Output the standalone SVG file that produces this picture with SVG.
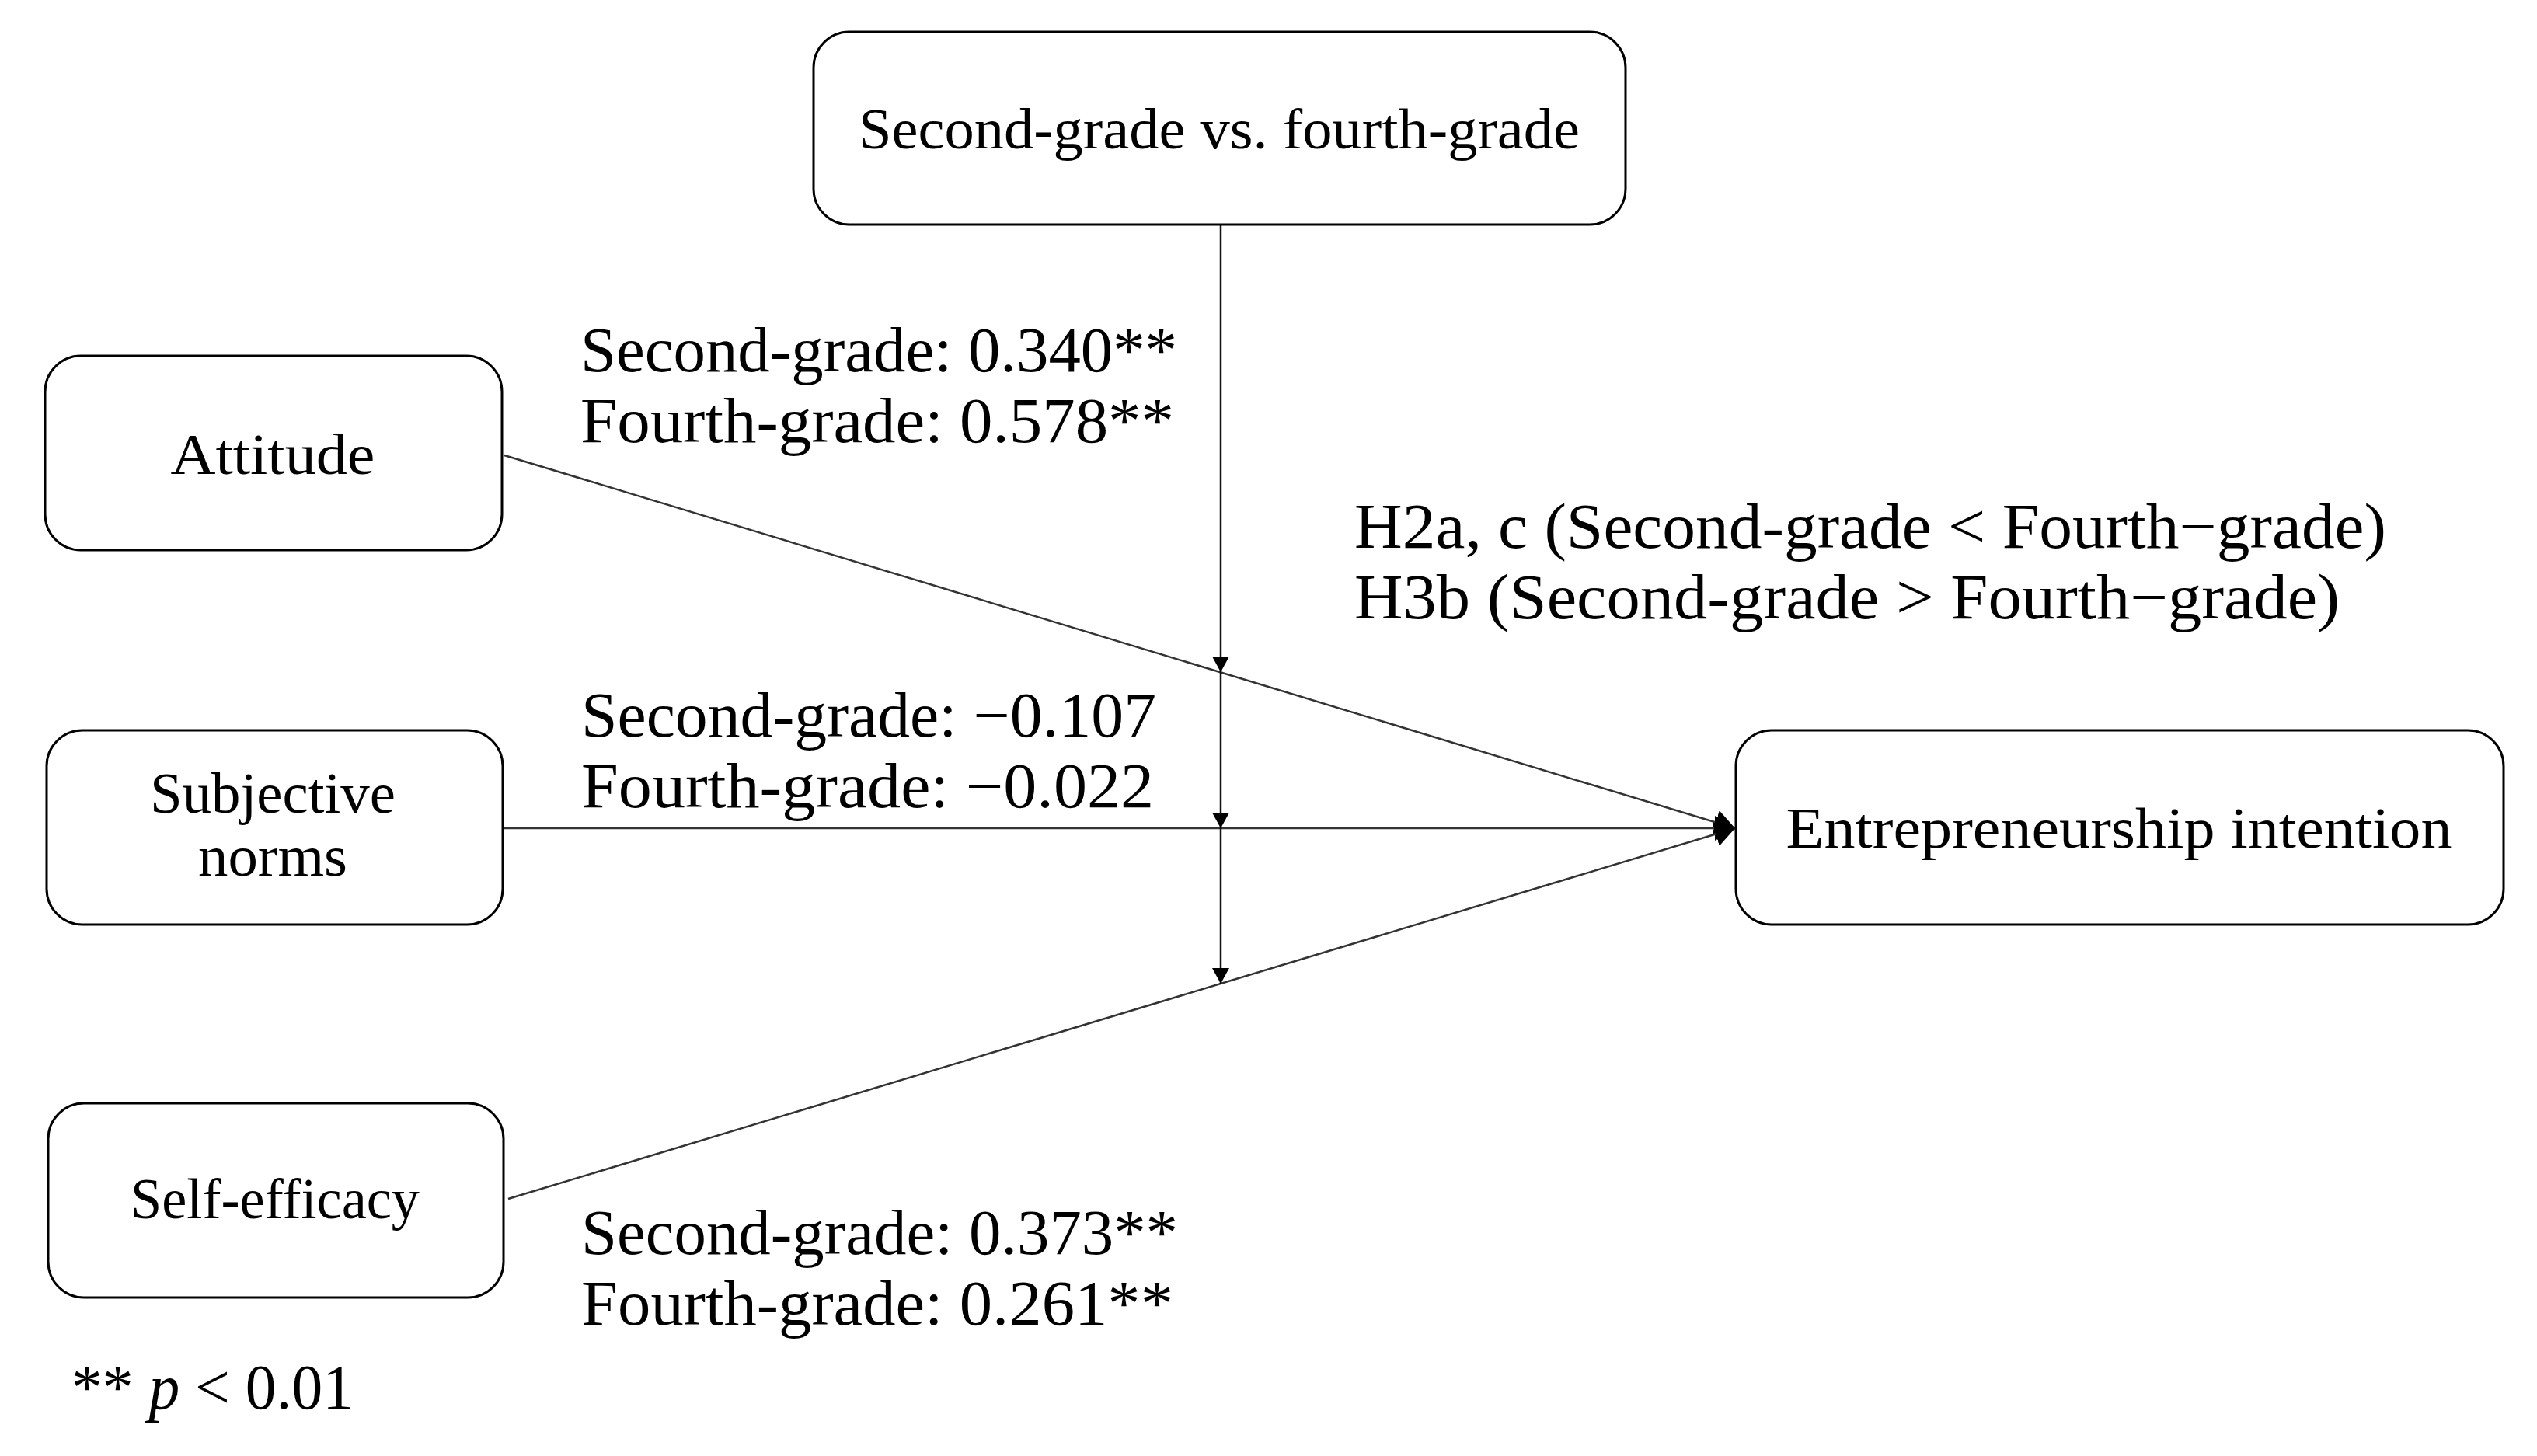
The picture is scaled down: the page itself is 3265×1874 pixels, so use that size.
<svg xmlns="http://www.w3.org/2000/svg" width="3265" height="1874" viewBox="0 0 3265 1874">
<style>
.box{fill:#fff;stroke:#000;stroke-width:3}
.nt{font-family:"Liberation Serif","DejaVu Serif",serif;font-size:75px;fill:#000;text-anchor:middle}
.lb{font-family:"Liberation Serif","DejaVu Serif",serif;font-size:82px;fill:#000}
.ln{fill:none;stroke:#333;stroke-width:2.5}
.vl{fill:none;stroke:#111;stroke-width:2.5}
</style>
<defs>
<marker id="ah" markerUnits="userSpaceOnUse" markerWidth="24" markerHeight="24" refX="20" refY="11" orient="auto"><path d="M0,0 L20,11 L0,22 Z" fill="#000"/></marker>
<marker id="ahb" markerUnits="userSpaceOnUse" markerWidth="30" markerHeight="34" refX="26" refY="16" orient="auto"><path d="M0,0 L26,16 L0,32 Z" fill="#000"/></marker>
</defs>
<rect width="3265" height="1874" fill="#fff"/>
<g id="connectors">
<line class="ln" x1="649" y1="586" x2="2233" y2="1066" marker-end="url(#ahb)"/>
<line class="ln" x1="647" y1="1066" x2="2233" y2="1066" marker-end="url(#ahb)"/>
<line class="ln" x1="654" y1="1543" x2="2233" y2="1066" marker-end="url(#ahb)"/>
<line class="vl" x1="1571" y1="289" x2="1571" y2="865" marker-end="url(#ah)"/>
<line class="vl" x1="1571" y1="865" x2="1571" y2="1066" marker-end="url(#ah)"/>
<line class="vl" x1="1571" y1="1066" x2="1571" y2="1266" marker-end="url(#ah)"/>
</g>
<g id="grade">
<rect class="box" x="1047" y="41" width="1045" height="248" rx="46" ry="46"/>
<text class="nt" x="1569" y="191" textLength="928" lengthAdjust="spacingAndGlyphs">Second-grade vs. fourth-grade</text>
</g>
<g id="attitude">
<rect class="box" x="58" y="458" width="588" height="250" rx="46" ry="46"/>
<text class="nt" x="351" y="610" textLength="263" lengthAdjust="spacingAndGlyphs">Attitude</text>
</g>
<g id="subjective-norms">
<rect class="box" x="60" y="940" width="587" height="250" rx="46" ry="46"/>
<text class="nt" x="351" y="1046" textLength="316" lengthAdjust="spacingAndGlyphs">Subjective</text>
<text class="nt" x="351" y="1127" textLength="192" lengthAdjust="spacingAndGlyphs">norms</text>
</g>
<g id="self-efficacy">
<rect class="box" x="62" y="1420" width="586" height="250" rx="46" ry="46"/>
<text class="nt" x="354" y="1568" textLength="372" lengthAdjust="spacingAndGlyphs">Self-efficacy</text>
</g>
<g id="intention">
<rect class="box" x="2234" y="940" width="988" height="250" rx="46" ry="46"/>
<text class="nt" x="2727" y="1091" textLength="857" lengthAdjust="spacingAndGlyphs">Entrepreneurship intention</text>
</g>
<g id="labels">
<text class="lb" x="747" y="478" textLength="768" lengthAdjust="spacingAndGlyphs">Second-grade: 0.340**</text>
<text class="lb" x="747" y="569" textLength="764" lengthAdjust="spacingAndGlyphs">Fourth-grade: 0.578**</text>
<text class="lb" x="748" y="948" textLength="740" lengthAdjust="spacingAndGlyphs">Second-grade: −0.107</text>
<text class="lb" x="748" y="1039" textLength="737" lengthAdjust="spacingAndGlyphs">Fourth-grade: −0.022</text>
<text class="lb" x="748" y="1614" textLength="768" lengthAdjust="spacingAndGlyphs">Second-grade: 0.373**</text>
<text class="lb" x="748" y="1705" textLength="762" lengthAdjust="spacingAndGlyphs">Fourth-grade: 0.261**</text>
<text class="lb" x="1743" y="705" textLength="1328" lengthAdjust="spacingAndGlyphs">H2a, c (Second-grade &lt; Fourth−grade)</text>
<text class="lb" x="1743" y="796" textLength="1268" lengthAdjust="spacingAndGlyphs">H3b (Second-grade &gt; Fourth−grade)</text>
<text class="lb" x="92" y="1813" textLength="363" lengthAdjust="spacingAndGlyphs">** <tspan font-style="italic">p</tspan> &lt; 0.01</text>
</g>
</svg>
